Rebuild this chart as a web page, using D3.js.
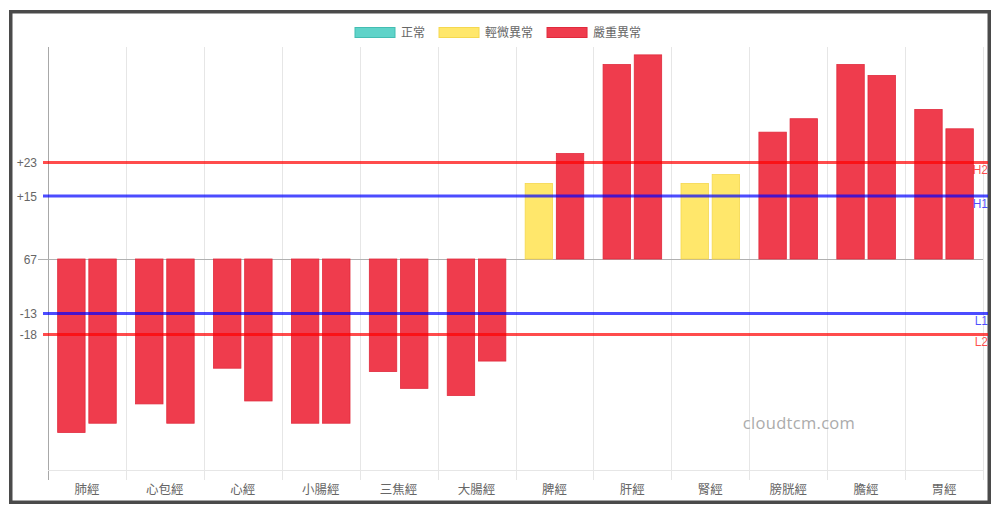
<!DOCTYPE html>
<html><head><meta charset="utf-8">
<script src="https://cdn.jsdelivr.net/npm/d3@7"></script>
<style>
html,body{margin:0;padding:0;background:#fff;}
svg{display:block;}
text{font-family:"Liberation Sans",Arial,"Noto Sans CJK TC",sans-serif;}
</style></head>
<body>
<svg id="chart" width="1000" height="514"></svg>
<script>
const categories = ['肺經','心包經','心經','小腸經','三焦經','大腸經','脾經','肝經','腎經','膀胱經','膽經','胃經'];
const seriesA = [-41.3,-34.5,-26.0,-39.1,-26.8,-32.5,18.0,46.3,18.0,30.2,46.3,35.6];
const seriesB = [-39.1,-39.1,-33.8,-39.1,-30.8,-24.3,25.1,48.6,20.1,33.4,43.7,31.0];
const tickValues = [23,15,0,-13,-18];
const tickLabels = ['+23','+15','67','-13','-18'];
const thresholdValues = [23,15,-13,-18];
const thresholdLabels = ['H2','H1','L1','L2'];
const thresholdColors = ['rgba(255,0,0,0.7)','rgba(0,0,255,0.7)','rgba(0,0,255,0.7)','rgba(255,0,0,0.7)'];
const legendNames = ['正常','輕微異常','嚴重異常'];
const legendFill = ['#5fd3c9','#ffe76b','#ef3c4d'];
const legendStroke = ['#43bdb2','#f5d84f','#e02a3c'];

(function(){
const svg = d3.select('#chart');
const pLeft = 48, pRight = 983, pTop = 49, pBottom = 469;

// frame
svg.append('rect').attr('x',10.75).attr('y',11.75).attr('width',978.5).attr('height',490.5)
  .attr('fill','none').attr('stroke','#4a4a4a').attr('stroke-width',3.5);

const x0 = d3.scaleBand().domain(categories).range([pLeft,pRight]).padding(0);
const cw = x0.bandwidth();
const x1 = d3.scaleBand().domain([0,1]).range([cw*0.1, cw*0.9]).padding(0);
const bw = x1.bandwidth()*0.88, boff = x1.bandwidth()*0.06;
const y = d3.scaleLinear().domain([-50,50]).range([pBottom,pTop]);

function status(v){ if (v>=23 || v<=-18) return 2; if (v>=15 || v<=-13) return 1; return 0; }

// vertical grid lines
const grid = svg.append('g');
d3.range(categories.length+1).forEach(i=>{
  const gx = Math.round(pLeft + i*cw) + 0.5;
  grid.append('line').attr('x1',gx).attr('x2',gx).attr('y1',47).attr('y2',480)
    .attr('stroke', i===0 ? '#a8a8a8' : '#e6e6e6').attr('stroke-width',1);
});
grid.append('line').attr('x1',pLeft).attr('x2',pRight).attr('y1',470.5).attr('y2',470.5)
  .attr('stroke','#e6e6e6');
grid.append('line').attr('x1',38).attr('x2',pRight).attr('y1',Math.round(y(0))+0.5).attr('y2',Math.round(y(0))+0.5)
  .attr('stroke','#b0b0b0');

// bars
const bars = svg.append('g');
[seriesA, seriesB].forEach((s, si)=>{
  bars.selectAll(null).data(s).enter().append('rect')
    .attr('x',(d,i)=> x0(categories[i]) + x1(si) + boff)
    .attr('width', bw)
    .attr('y', d=> y(Math.max(0,d)))
    .attr('height', d=> Math.abs(y(d)-y(0)))
    .attr('fill', d=> legendFill[status(d)])
    .attr('stroke', d=> legendStroke[status(d)])
    .attr('stroke-width',0.8);
});

// threshold lines
thresholdValues.forEach((v,i)=>{
  svg.append('line').attr('x1',43).attr('x2',988).attr('y1',y(v)).attr('y2',y(v))
    .attr('stroke',thresholdColors[i]).attr('stroke-width',3);
  svg.append('text').attr('x',988).attr('y',y(v)+11.5).attr('text-anchor','end')
    .attr('font-size',12).attr('fill',thresholdColors[i]).text(thresholdLabels[i]);
});

// y tick labels
tickValues.forEach((v,i)=>{
  svg.append('text').attr('x',37).attr('y',y(v)+4.5).attr('text-anchor','end')
    .attr('font-size',12).attr('fill','#666').text(tickLabels[i]);
});

// x labels
categories.forEach(c=>{
  svg.append('text').attr('x',x0(c)+cw/2).attr('y',494).attr('text-anchor','middle')
    .attr('font-size',12.5).attr('fill','#666').text(c);
});

// legend
const lg = svg.append('g');
let lx = 355;
legendNames.forEach((n,i)=>{
  lg.append('rect').attr('x',lx).attr('y',27.5).attr('width',40).attr('height',10)
    .attr('fill',legendFill[i]).attr('stroke',legendStroke[i]).attr('stroke-width',1);
  const t = lg.append('text').attr('x',lx+46).attr('y',37).attr('font-size',12).attr('fill','#666').text(n);
  lx += 46 + t.node().getComputedTextLength() + 14;
});

// watermark
svg.append('text').attr('x',799).attr('y',429).attr('text-anchor','middle')
  .attr('font-size',16.5).attr('fill','#ababab').attr('letter-spacing',0.3)
  .style('font-family','"Open Sans",Lato,sans-serif').text('cloudtcm.com');
})();
</script>
</body></html>
